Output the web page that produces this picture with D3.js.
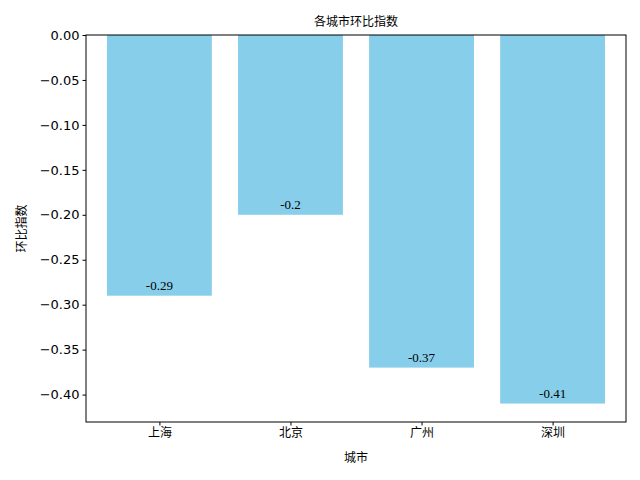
<!DOCTYPE html>
<html><head><meta charset="utf-8">
<script src="https://cdn.jsdelivr.net/npm/d3@7"></script>
<style>body{margin:0;background:#fff}</style></head>
<body><svg id="c" width="640" height="480"></svg>
<script>
const cities = ["上海","北京","广州","深圳"];
const values = [-0.29,-0.2,-0.37,-0.41];
const yTicks = [0,-0.05,-0.1,-0.15,-0.2,-0.25,-0.3,-0.35,-0.4];
const svg = d3.select("#c");
const L=86,R=626,T=35,B=422;
const x = d3.scaleLinear().domain([-0.56,3.56]).range([L,R]);
const y = d3.scaleLinear().domain([0,-0.4305]).range([T,B]);
svg.selectAll("rect.bar").data(values).join("rect").attr("class","bar")
 .attr("x",(d,i)=>x(i-0.4)).attr("width",(d,i)=>x(i+0.4)-x(i-0.4))
 .attr("y",y(0)).attr("height",d=>y(d)-y(0)).attr("fill","#87CEEB");
svg.selectAll("text.lab").data(values).join("text").attr("class","lab")
 .attr("x",(d,i)=>x(i)).attr("y",d=>y(d)-6).attr("text-anchor","middle")
 .attr("font-family","Liberation Serif, DejaVu Serif, serif").attr("font-size",13).text(d=>String(d));
const xa = svg.append("g").attr("transform",`translate(0,${B})`)
 .call(d3.axisBottom(x).tickValues([0,1,2,3]).tickFormat(i=>cities[i]).tickSizeOuter(0).tickSize(3.5));
const ya = svg.append("g").attr("transform",`translate(${L},0)`)
 .call(d3.axisLeft(y).tickValues(yTicks).tickFormat(d=>d.toFixed(2).replace("-","−")).tickSizeOuter(0).tickSize(3.5));
[xa,ya].forEach(a=>{a.selectAll("text").attr("font-family","DejaVu Sans, Noto Sans CJK SC").attr("font-size",13).attr("fill","#000");a.select(".domain").remove();a.selectAll("line").attr("stroke","#000");});
xa.selectAll("text").attr("font-family","Noto Sans CJK SC").attr("font-size",12);
svg.append("rect").attr("x",L).attr("y",T).attr("width",R-L).attr("height",B-T).attr("fill","none").attr("stroke","#000").attr("stroke-width",1);
svg.append("text").attr("x",(L+R)/2).attr("y",26).attr("text-anchor","middle").attr("font-family","Noto Sans CJK SC").attr("font-size",12).text("各城市环比指数");
svg.append("text").attr("x",(L+R)/2).attr("y",462).attr("text-anchor","middle").attr("font-family","Noto Sans CJK SC").attr("font-size",12).text("城市");
svg.append("text").attr("transform",`translate(26,${(T+B)/2}) rotate(-90)`).attr("text-anchor","middle").attr("font-family","Noto Sans CJK SC").attr("font-size",12).text("环比指数");
</script></body></html>
